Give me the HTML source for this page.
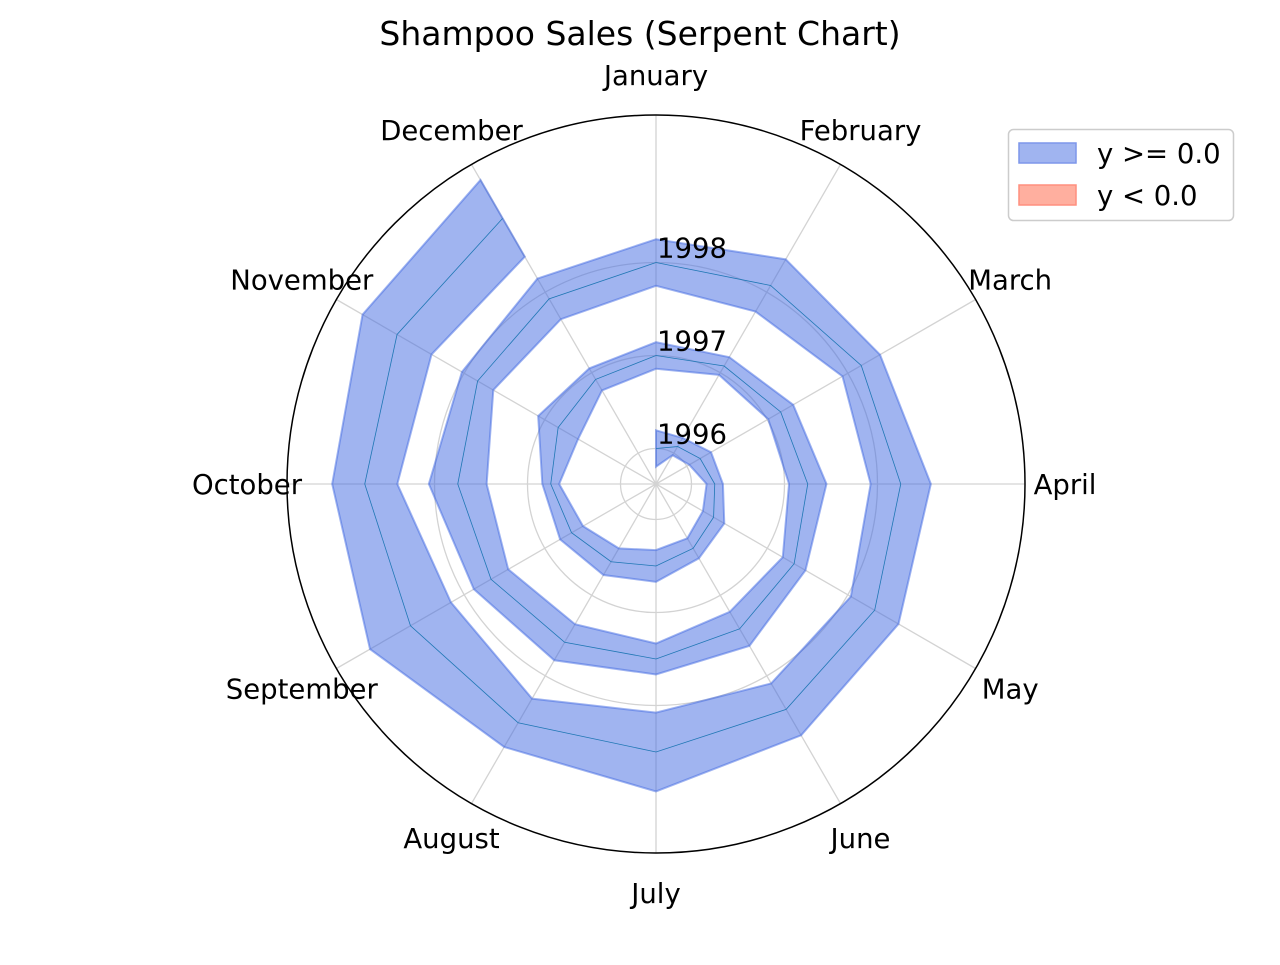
<!DOCTYPE html>
<html><head><meta charset="utf-8"><style>
body{margin:0;background:#fff;}
svg text{font-family:"DejaVu Sans","Liberation Sans",sans-serif;fill:#000;}
</style></head><body>
<svg width="1280" height="960" viewBox="0 0 1280 960">
<text x="640" y="45" font-size="33" text-anchor="middle">Shampoo Sales (Serpent Chart)</text>
<g id="grid"></g>
<g id="band"></g>
<g id="labels"></g>
<circle cx="656" cy="484" r="369" fill="none" stroke="#000" stroke-width="1.5"/>
<g>
<rect x="1008.5" y="129.5" width="225" height="91" rx="5" fill="#fff" stroke="#ccc" stroke-width="1.5"/>
<rect x="1019" y="143" width="57" height="20" fill="#a0b4f0" stroke="#7d96ea" stroke-width="1.5"/>
<text x="1097" y="163" font-size="27.5">y &gt;= 0.0</text>
<rect x="1019" y="185" width="57" height="20" fill="#ffaf9f" stroke="#ff8f7f" stroke-width="1.5"/>
<text x="1097" y="205" font-size="27.5">y &lt; 0.0</text>
</g>
</svg>
<script>
const months = ["January","February","March","April","May","June","July","August","September","October","November","December"];
const years = ["1996","1997","1998"];
const sales = [266.0,145.9,183.1,119.3,180.3,168.5,231.8,224.5,192.8,122.9,336.5,185.9,
194.3,149.5,210.1,273.3,191.4,287.0,226.0,303.6,289.9,421.6,264.5,342.3,
339.7,440.4,315.9,439.3,401.3,437.4,575.5,407.6,682.0,475.3,581.3,646.9];
const cx=656, cy=484, R0=35.5, STEP=93/12, K=0.137, ROUT=369;
const NS="http://www.w3.org/2000/svg";
function rad(i){return R0+i*STEP;}
function ang(i){return (i%12)*Math.PI/6;}
function pt(r,a){return [cx+r*Math.sin(a), cy-r*Math.cos(a)];}
function mk(tag,attrs,parent){const e=document.createElementNS(NS,tag);for(const k in attrs)e.setAttribute(k,attrs[k]);parent.appendChild(e);return e;}
const grid=document.getElementById('grid'), band=document.getElementById('band'), labels=document.getElementById('labels');
years.forEach((y,k)=>{
  const c=mk('circle',{cx:cx,cy:cy,r:rad(k*12),fill:'none',stroke:'#d3d3d3','stroke-width':1.3},grid);
  
  
  const t=mk('text',{x:cx+1,y:cy-rad(k*12)-5,'font-size':27.5},labels);
  t.textContent=y;
  
  
});
months.forEach((m,i)=>{
  const a=ang(i);const [x,y]=pt(ROUT,a);
  const l=mk('line',{x1:cx,y1:cy,x2:x,y2:y,stroke:'#d3d3d3','stroke-width':1.3},grid);
  
  
  const [tx,ty]=pt(409,a);
  const t=mk('text',{x:tx,y:ty+10,'font-size':27.5,'text-anchor':'middle'},labels);
  t.textContent=m;
  
  
});
const outer=[],inner=[],center=[];
sales.forEach((v,i)=>{
  const r=rad(i),w=v*K/2,a=ang(i);
  outer.push(pt(r+w,a));inner.push(pt(Math.max(r-w,0),a));center.push(pt(r,a));
});
const poly=outer.concat(inner.slice().reverse()).map(p=>p.join(',')).join(' ');
const pg=mk('polygon',{points:poly,fill:'rgba(65,105,225,0.5)',stroke:'rgba(65,105,225,0.5)','stroke-width':2,'stroke-linejoin':'miter'},band);


const cl=mk('polyline',{points:center.map(p=>p.join(',')).join(' '),fill:'none',stroke:'#1f77b4','stroke-width':0.8},band);


</script>
</body></html>
